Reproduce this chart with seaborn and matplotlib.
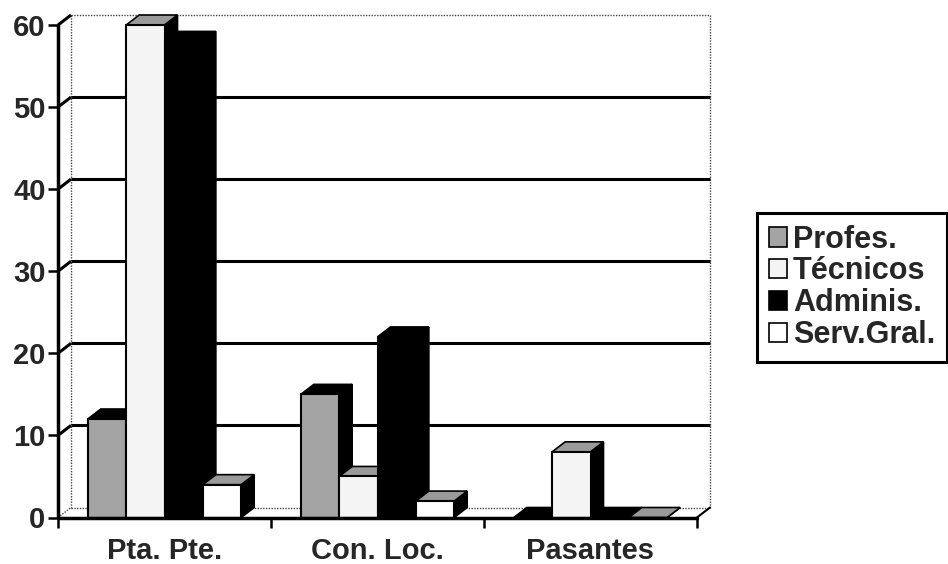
import matplotlib
matplotlib.use("Agg")
import matplotlib.pyplot as plt
import numpy as np
import pandas as pd
import seaborn as sns
from matplotlib.patches import Polygon, Patch

# ---- data -------------------------------------------------------------
categories = ["Pta. Pte.", "Con. Loc.", "Pasantes"]
series = ["Profes.", "Técnicos", "Adminis.", "Serv.Gral."]
profes = [12, 15, 0]
tecnicos = [60, 5, 8]
adminis = [58, 22, 0]
serv_gral = [4, 2, 0]
y_ticks = [0, 10, 20, 30, 40, 50, 60]

values = {"Profes.": profes, "Técnicos": tecnicos,
          "Adminis.": adminis, "Serv.Gral.": serv_gral}
df = pd.DataFrame([(c, s, values[s][i]) for s in series
                   for i, c in enumerate(categories)],
                  columns=["categoria", "serie", "valor"])

# ---- style ------------------------------------------------------------
front_colors = {"Profes.": "#a4a4a4", "Técnicos": "#f4f4f4",
                "Adminis.": "#000000", "Serv.Gral.": "#ffffff"}
top_colors = {"Profes.": "#000000", "Técnicos": "#9a9a9a",
              "Adminis.": "#000000", "Serv.Gral.": "#9a9a9a"}

sns.set_theme(style="white")
plt.rcParams["font.family"] = ["Liberation Sans", "DejaVu Sans"]
plt.rcParams["font.weight"] = "bold"

W, H = 948, 564
fig = plt.figure(figsize=(W / 100, H / 100), dpi=100)
x_left, x_right, y_bot, y_top = 58, 697, 517.5, 25
ax = fig.add_axes([x_left / W, 1 - y_bot / H,
                   (x_right - x_left) / W, (y_bot - y_top) / H])

sns.barplot(data=df, x="categoria", y="valor", hue="serie",
            order=categories, hue_order=series, palette=front_colors,
            width=0.72, saturation=1, edgecolor="black", linewidth=1.5,
            legend=False, ax=ax)

ax.set_xlim(-0.5, 2.5)
ax.set_ylim(0, 60)
for sp in ax.spines.values():
    sp.set_visible(False)
ax.set_xlabel("")
ax.set_ylabel("")

# depth of the 3D box, in pixels (towards the back: right and up)
DX, DY = 13, 10


def back(x, y):
    px, py = ax.transData.transform((x, y))
    return tuple(ax.transData.inverted().transform((px + DX, py + DY)))


dotted = dict(color="#444444", lw=1.0, ls=(0, (1, 1)), zorder=1,
              clip_on=False)
solid = dict(color="black", lw=2.2, zorder=2, clip_on=False,
             solid_capstyle="butt")

x0, x1 = -0.5, 2.5
# back wall gridlines and left wall diagonals
for v in y_ticks[1:-1]:
    (bx0, by), (bx1, _) = back(x0, v), back(x1, v)
    ax.plot([bx0, bx1], [by, by], **solid)
for v in y_ticks[1:]:
    bx, by = back(x0, v)
    ax.plot([x0, bx], [v, by], **solid)
# wall and floor outlines
b00, b01 = back(x0, 0), back(x0, 60)
b10, b11 = back(x1, 0), back(x1, 60)
ax.plot([b01[0], b11[0]], [b01[1], b11[1]], **dotted)
ax.plot([b00[0], b01[0]], [b00[1], b01[1]], **dotted)
ax.plot([b10[0], b11[0]], [b10[1], b11[1]], **dotted)
ax.plot([b00[0], b10[0]], [b00[1], b10[1]], **dotted)
ax.plot([x0, b00[0]], [0, b00[1]], **dotted)
ax.plot([x1, b10[0]], [0, b10[1]], color="black", lw=1.5, zorder=2,
        clip_on=False)
# front axes
ax.plot([x0, x1], [0, 0], color="black", lw=2.5, zorder=60, clip_on=False)
ax.plot([x0, x0], [0, 60], color="black", lw=2.5, zorder=60, clip_on=False)

# extruded bars, painted left to right so nearer faces cover hidden ones
bars = sorted([p for p in ax.patches], key=lambda p: p.get_x())
n_cat = len(categories)
for i, p in enumerate(bars):
    xa, w, h = p.get_x(), p.get_width(), p.get_height()
    xb = xa + w
    # series from the bar's slot inside its group
    c = int(round(xa + w / 2))
    k = int(np.floor((xa - (c - 0.36)) / 0.18 + 1e-6))
    s = series[min(max(k, 0), 3)]
    z = 10 + 3 * i
    side = Polygon([(xb, 0), (xb, h), back(xb, h), back(xb, 0)],
                   closed=True, facecolor="black", edgecolor="black",
                   lw=1.2, zorder=z, clip_on=False)
    top = Polygon([(xa, h), (xb, h), back(xb, h), back(xa, h)],
                  closed=True, facecolor=top_colors[s], edgecolor="black",
                  lw=1.2, zorder=z + 1, clip_on=False)
    ax.add_patch(side)
    ax.add_patch(top)
    p.set_zorder(z + 2)
    p.set_clip_on(False)

# ticks and labels
ax.set_yticks(y_ticks)
ax.set_yticklabels([str(v) for v in y_ticks], fontsize=21,
                   fontweight="bold")
ax.tick_params(axis="y", which="major", left=True, direction="out",
               length=7, width=1.8, color="black", pad=2)
ax.set_xticks(range(n_cat))
ax.set_xticklabels(categories, fontsize=21, fontweight="bold")
ax.set_xticks([-0.5, 0.5, 1.5, 2.5], minor=True)
ax.tick_params(axis="x", which="major", bottom=False, pad=8)
ax.tick_params(axis="x", which="minor", bottom=True, direction="out",
               length=7, width=1.8, color="black")

handles = [Patch(facecolor=front_colors[s], edgecolor="black", lw=1.2,
                 label=s) for s in series]
leg = fig.legend(handles=handles, loc="upper left",
                 bbox_to_anchor=(757 / W, 1 - 213 / H),
                 prop={"size": 22, "weight": "bold"}, frameon=True,
                 fancybox=False, framealpha=1, edgecolor="black",
                 handlelength=0.6, handleheight=0.6, handletextpad=0.2,
                 labelspacing=0.06, borderpad=0.38, borderaxespad=0)
leg.get_frame().set_linewidth(2.2)

fig.savefig("out.png", dpi=100, facecolor="white")
